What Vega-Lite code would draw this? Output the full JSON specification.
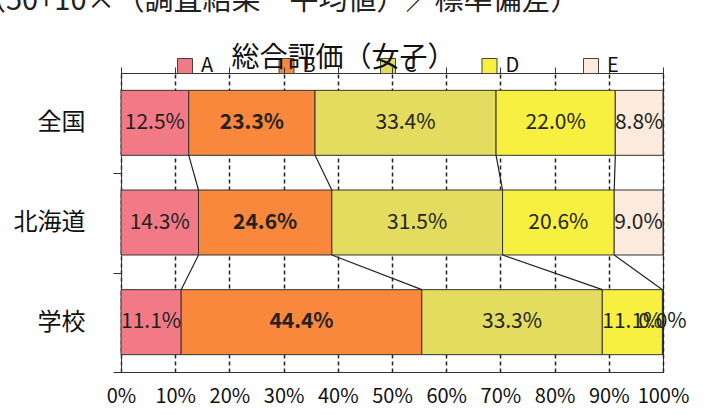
{
  "$schema": "https://vega.github.io/schema/vega-lite/v6.json",
  "width": 542,
  "height": 299,
  "autosize": {"type": "none"},
  "padding": {"left": 121, "top": 73, "right": 51, "bottom": 43},
  "background": "white",
  "config": {"font": "Noto Sans CJK JP", "view": {"stroke": "#333", "strokeWidth": 1}},
  "title": {
    "text": "（50+10×（調査結果－平均値）／標準偏差）",
    "anchor": "start",
    "frame": "group",
    "fontSize": 29,
    "fontWeight": "normal",
    "color": "#222",
    "baseline": "alphabetic",
    "offset": 5,
    "dx": -144
  },
  "data": {
    "values": [
      {"region": "全国", "grade": "A", "value": 12.5},
      {"region": "全国", "grade": "B", "value": 23.3},
      {"region": "全国", "grade": "C", "value": 33.4},
      {"region": "全国", "grade": "D", "value": 22.0},
      {"region": "全国", "grade": "E", "value": 8.8},
      {"region": "北海道", "grade": "A", "value": 14.3},
      {"region": "北海道", "grade": "B", "value": 24.6},
      {"region": "北海道", "grade": "C", "value": 31.5},
      {"region": "北海道", "grade": "D", "value": 20.6},
      {"region": "北海道", "grade": "E", "value": 9.0},
      {"region": "学校", "grade": "A", "value": 11.1},
      {"region": "学校", "grade": "B", "value": 44.4},
      {"region": "学校", "grade": "C", "value": 33.3},
      {"region": "学校", "grade": "D", "value": 11.1},
      {"region": "学校", "grade": "E", "value": 0.0}
    ]
  },
  "layer": [
    {
      "mark": {"type": "bar", "stroke": "#333", "strokeWidth": 1},
      "encoding": {
        "y": {
          "field": "region", "type": "nominal", "sort": ["全国", "北海道", "学校"], "title": null,
          "scale": {"domain": ["全国", "北海道", "学校"], "paddingInner": 0.348, "paddingOuter": 0.174},
          "axis": {
            "domain": true, "domainColor": "#333", "ticks": true, "tickOffset": 50, "labelOffset": -50,
            "tickSize": 8, "tickColor": "#333", "labelFontSize": 24, "labelColor": "#111",
            "labelPadding": 28, "grid": false
          }
        },
        "x": {
          "field": "value", "type": "quantitative", "stack": "zero", "title": null,
          "scale": {"domain": [0, 100], "nice": false},
          "axis": {
            "orient": "bottom", "values": [0, 10, 20, 30, 40, 50, 60, 70, 80, 90, 100],
            "labelExpr": "datum.value + '%'", "grid": true, "gridColor": "#222", "gridDash": [4, 3],
            "gridWidth": 1.5, "ticks": false, "domain": true, "domainColor": "#333", "labelFontSize": 20,
            "labelColor": "#111", "labelPadding": 14, "labelFlush": false, "zindex": 0
          }
        },
        "color": {
          "field": "grade", "type": "nominal",
          "scale": {"domain": ["A", "B", "C", "D", "E"], "range": ["#F27A86", "#F9883C", "#E3DC5E", "#F8F040", "#FCEBDD"]},
          "legend": {
            "orient": "none", "legendX": 54, "legendY": -17, "direction": "horizontal", "columns": 5,
            "title": null, "symbolType": "square", "symbolSize": 225, "symbolStrokeColor": "#444",
            "symbolStrokeWidth": 1, "labelFontSize": 20, "labelColor": "#111", "labelOffset": 6,
            "columnPadding": 61.5, "gridAlign": "all", "padding": 0, "zindex": 0
          }
        },
        "order": {"field": "grade"}
      }
    },
    {
      "data": {
        "values": [
          {"from": "全国", "to": "北海道", "xf": 12.5, "xt": 14.3},
          {"from": "全国", "to": "北海道", "xf": 35.8, "xt": 38.9},
          {"from": "全国", "to": "北海道", "xf": 69.2, "xt": 70.4},
          {"from": "全国", "to": "北海道", "xf": 91.2, "xt": 91.0},
          {"from": "北海道", "to": "学校", "xf": 14.3, "xt": 11.1},
          {"from": "北海道", "to": "学校", "xf": 38.9, "xt": 55.5},
          {"from": "北海道", "to": "学校", "xf": 70.4, "xt": 88.8},
          {"from": "北海道", "to": "学校", "xf": 91.0, "xt": 99.9}
        ]
      },
      "mark": {"type": "rule", "color": "#222", "strokeWidth": 1.2},
      "encoding": {
        "x": {
          "field": "xf", "type": "quantitative", "title": "総合評価（女子）",
          "axis": {
            "orient": "top", "values": [0, 10, 20, 30, 40, 50, 60, 70, 80, 90, 100], "labels": false,
            "ticks": true, "tickSize": 6, "tickColor": "#333", "domain": false, "grid": false,
            "titleFontSize": 28, "titleFontWeight": "normal", "titleColor": "#111", "titleX": 222,
            "titleY": -7, "titleAlign": "center", "titleBaseline": "alphabetic", "zindex": 2
          }
        },
        "x2": {"field": "xt"},
        "y": {"field": "from", "type": "nominal", "sort": ["全国", "北海道", "学校"], "bandPosition": 1, "title": null},
        "y2": {"field": "to", "bandPosition": 0}
      }
    },
    {
      "transform": [
        {"stack": "value", "groupby": ["region"], "sort": [{"field": "grade"}], "as": ["s0", "s1"]},
        {"calculate": "(datum.s0 + datum.s1) / 2", "as": "mid"},
        {"calculate": "format(datum.value, '.1f') + '%'", "as": "label"},
        {"filter": "datum.grade !== 'B'"}
      ],
      "mark": {"type": "text", "fontSize": 21, "color": "#222"},
      "encoding": {
        "x": {"field": "mid", "type": "quantitative", "axis": null},
        "y": {"field": "region", "type": "nominal", "sort": ["全国", "北海道", "学校"], "title": null},
        "text": {"field": "label"}
      }
    },
    {
      "transform": [
        {"stack": "value", "groupby": ["region"], "sort": [{"field": "grade"}], "as": ["s0", "s1"]},
        {"calculate": "(datum.s0 + datum.s1) / 2", "as": "mid"},
        {"calculate": "format(datum.value, '.1f') + '%'", "as": "label"},
        {"filter": "datum.grade === 'B'"}
      ],
      "mark": {"type": "text", "fontSize": 21, "fontWeight": "bold", "color": "#222"},
      "encoding": {
        "x": {"field": "mid", "type": "quantitative", "axis": null},
        "y": {"field": "region", "type": "nominal", "sort": ["全国", "北海道", "学校"], "title": null},
        "text": {"field": "label"}
      }
    }
  ],
  "resolve": {"axis": {"x": "independent"}}
}
